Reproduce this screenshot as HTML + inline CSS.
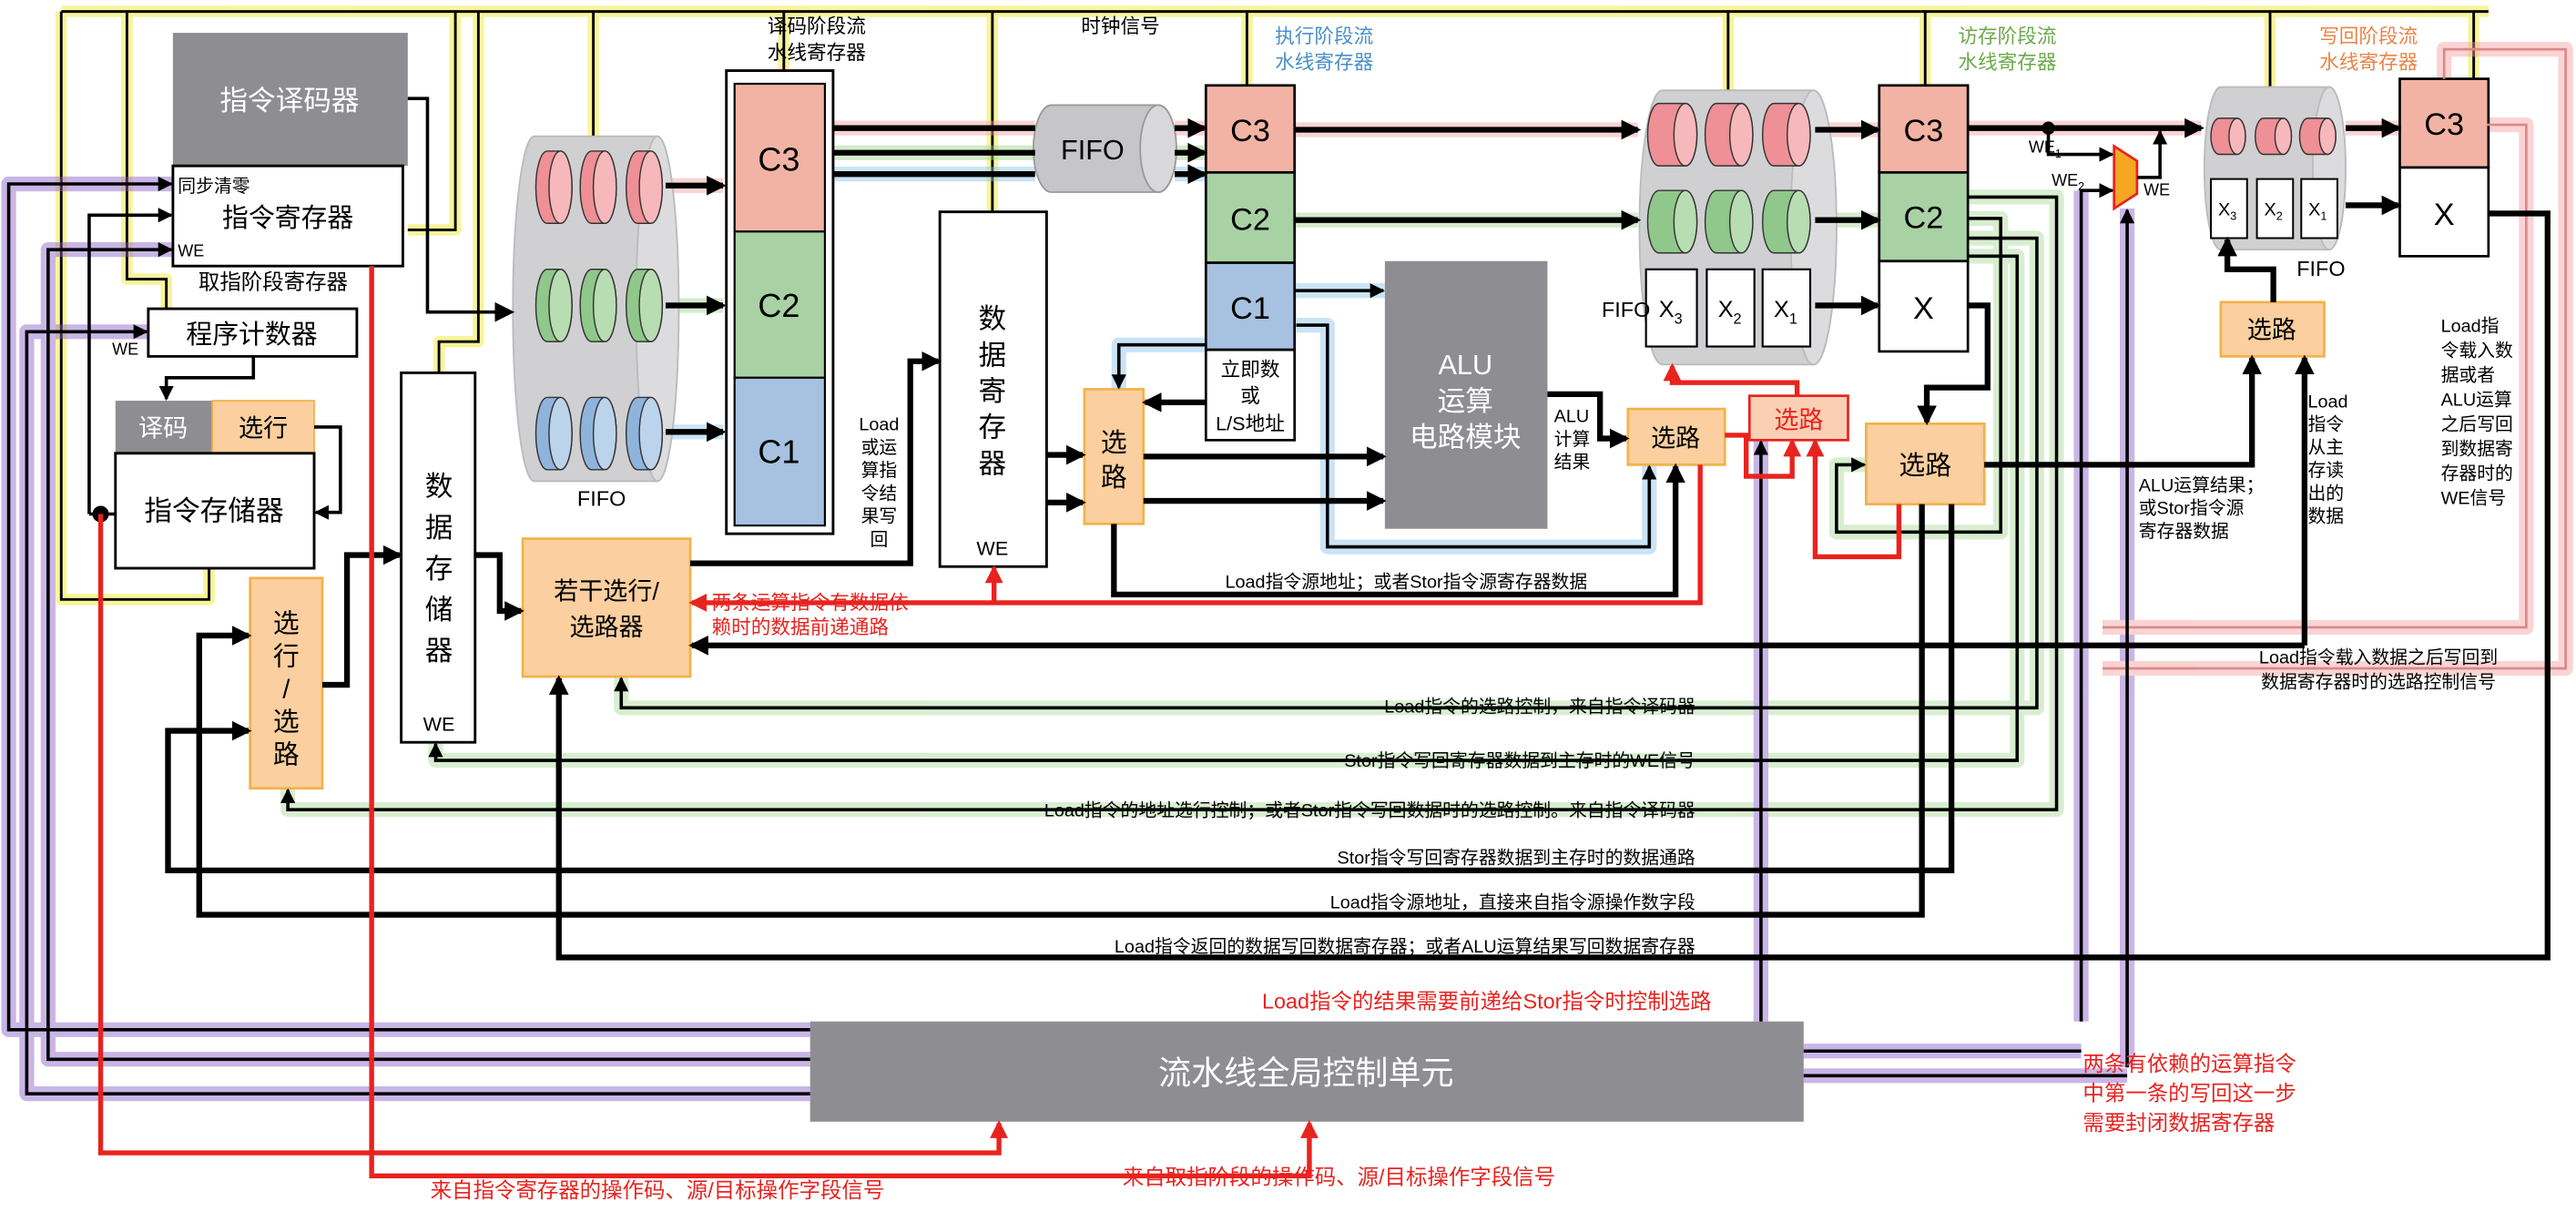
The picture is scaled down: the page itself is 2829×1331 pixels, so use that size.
<!DOCTYPE html>
<html><head><meta charset="utf-8"><style>
html,body{margin:0;padding:0;background:#fff;}
svg{display:block;}
text{font-family:"Liberation Sans","Noto Sans CJK SC",sans-serif;}
</style></head><body>
<svg width="2829" height="1331" viewBox="0 0 1568 738" xmlns="http://www.w3.org/2000/svg">
<defs>
<marker id="a" markerUnits="userSpaceOnUse" markerWidth="12" markerHeight="12" refX="10" refY="6" orient="auto"><path d="M0,0 L12,6 L0,12 Z" fill="#000"/></marker>
<marker id="as" markerUnits="userSpaceOnUse" markerWidth="9" markerHeight="9" refX="8" refY="4.5" orient="auto"><path d="M0,0 L9,4.5 L0,9 Z" fill="#000"/></marker>
<marker id="r" markerUnits="userSpaceOnUse" markerWidth="11" markerHeight="11" refX="9" refY="5.5" orient="auto"><path d="M0,0 L11,5.5 L0,11 Z" fill="#e8231f"/></marker>
</defs>
<rect width="1568" height="738" fill="#fff"/>

<!-- ===== yellow clock bus ===== -->
<g fill="none" stroke="#f7f38a" stroke-width="7" stroke-linejoin="round" opacity="0.85">
<path d="M37,7 H1515"/>
<path d="M37,7 V365 H127 V346"/>
<path d="M77,7 V170 H101 V188"/>
<path d="M277,7 V140 H248"/>
<path d="M291,7 V208 H267 V227"/>
<path d="M361,7 V83"/><path d="M477,7 V43"/>
<path d="M604,7 V129"/><path d="M759,7 V52"/>
<path d="M1052,7 V55"/><path d="M1172,7 V52"/>
<path d="M1382,7 V53"/><path d="M1506,7 V48"/>
</g>
<g fill="none" stroke="#000" stroke-width="1.6">
<path d="M37,7 H1515"/>
<path d="M37,7 V365 H127 V346"/>
<path d="M77,7 V170 H101 V188"/>
<path d="M277,7 V140 H248"/>
<path d="M291,7 V208 H267 V227"/>
<path d="M361,7 V83"/><path d="M477,7 V43"/>
<path d="M604,7 V129"/><path d="M759,7 V52"/>
<path d="M1052,7 V55"/><path d="M1172,7 V52"/>
<path d="M1382,7 V53"/><path d="M1506,7 V48"/>
</g>
<text x="497" y="20" font-size="12" text-anchor="middle">译码阶段流</text>
<text x="497" y="36" font-size="12" text-anchor="middle">水线寄存器</text>
<text x="682" y="20" font-size="12" text-anchor="middle">时钟信号</text>
<text x="806" y="26" font-size="12" text-anchor="middle" fill="#4a90c8">执行阶段流</text>
<text x="806" y="42" font-size="12" text-anchor="middle" fill="#4a90c8">水线寄存器</text>
<text x="1222" y="26" font-size="12" text-anchor="middle" fill="#6aaa4a">访存阶段流</text>
<text x="1222" y="42" font-size="12" text-anchor="middle" fill="#6aaa4a">水线寄存器</text>
<text x="1442" y="26" font-size="12" text-anchor="middle" fill="#e8854a">写回阶段流</text>
<text x="1442" y="42" font-size="12" text-anchor="middle" fill="#e8854a">水线寄存器</text>

<!-- ===== glows (colored) ===== -->
<g fill="none" stroke-width="9" stroke-linejoin="round" opacity="0.45">
<path d="M493,627 H5 V112 H105" stroke="#8a5cc8"/>
<path d="M493,645 H29 V152 H105" stroke="#8a5cc8"/>
<path d="M493,666 H16 V202 H90" stroke="#8a5cc8"/>
<path d="M405,113 H440 M507,78 H630 M715,78 H734 M788,79 H997 M1105,79 H1144 M1198,78 H1340 M1428,78 H1461" stroke="#f4a0a0"/>
<path d="M405,186 H440 M507,93 H630 M715,93 H734 M788,134 H997 M1105,134 H1144" stroke="#9fd48f"/>
<path d="M405,263 H440 M507,106 H630 M715,106 H734 M788,177 H843 M789,198 H808 V333 H1004 V283 M734,210 H681 V237" stroke="#8cc4ec"/>
<path d="M1198,133 H1218 V324 H1118 V283 H1136 M1198,145 H1240 V431 H378 V412 M1198,156 H1228 V463 H265 V452 M1198,120 H1252 V493 H175 V480" stroke="#a9db98"/>
<path d="M1072,622 V268 M1267,622 V116 M1295,650 V127 M1098,640 H1267 M1098,655 H1295" stroke="#8a5cc8"/>
<path d="M1488,48 V30 H1562 V407 H1280 M1514,76 H1538 V382 H1280" stroke="#f4a0a0"/>
</g>

<!-- ===== boxes: fetch stage ===== -->
<rect x="105" y="20" width="143" height="81" fill="#8e8e92"/>
<text x="176" y="67" font-size="17" fill="#fff" text-anchor="middle">指令译码器</text>
<rect x="105" y="101" width="140" height="61" fill="#fff" stroke="#000" stroke-width="1.6"/>
<text x="108" y="117" font-size="11">同步清零</text>
<text x="175" y="138" font-size="16" text-anchor="middle">指令寄存器</text>
<text x="108" y="156" font-size="10">WE</text>
<text x="166" y="176" font-size="13" text-anchor="middle">取指阶段寄存器</text>
<rect x="90" y="188" width="127" height="29" fill="#fff" stroke="#000" stroke-width="1.6"/>
<text x="153" y="209" font-size="16" text-anchor="middle">程序计数器</text>
<text x="68" y="216" font-size="10">WE</text>
<rect x="70" y="244" width="59" height="32" fill="#8e8e92"/>
<text x="99" y="266" font-size="15" fill="#fff" text-anchor="middle">译码</text>
<rect x="129" y="244" width="62" height="32" fill="#fbcf9f" stroke="#f2b24a" stroke-width="1"/>
<text x="160" y="266" font-size="15" text-anchor="middle">选行</text>
<rect x="70" y="276" width="121" height="70" fill="#fff" stroke="#000" stroke-width="1.6"/>
<text x="130" y="317" font-size="17" text-anchor="middle">指令存储器</text>

<rect x="152" y="352" width="44" height="128" fill="#fbcf9f" stroke="#f2b24a" stroke-width="1.5"/>
<text x="174" y="385" font-size="16" text-anchor="middle">选</text>
<text x="174" y="405" font-size="16" text-anchor="middle">行</text>
<text x="174" y="425" font-size="16" text-anchor="middle">/</text>
<text x="174" y="445" font-size="16" text-anchor="middle">选</text>
<text x="174" y="465" font-size="16" text-anchor="middle">路</text>

<rect x="244" y="227" width="45" height="225" fill="#fff" stroke="#000" stroke-width="1.6"/>
<text x="267" y="302" font-size="17" text-anchor="middle">数</text>
<text x="267" y="327" font-size="17" text-anchor="middle">据</text>
<text x="267" y="352" font-size="17" text-anchor="middle">存</text>
<text x="267" y="377" font-size="17" text-anchor="middle">储</text>
<text x="267" y="402" font-size="17" text-anchor="middle">器</text>
<text x="267" y="445" font-size="12" text-anchor="middle">WE</text>

<rect x="318" y="328" width="102" height="84" fill="#fbcf9f" stroke="#f2b24a" stroke-width="1.5"/>
<text x="369" y="365" font-size="15" text-anchor="middle">若干选行/</text>
<text x="369" y="387" font-size="15" text-anchor="middle">选路器</text>

<!-- ===== big FIFO (decode) ===== -->
<path d="M325,83 H400 A13,105 0 0 1 400,293 H325 A13,105 0 0 1 325,83 Z" fill="#d0d0d2" stroke="#bbb"/>
<ellipse cx="400" cy="188" rx="13" ry="105" fill="#dcdcde" stroke="#bbb"/>
<g stroke="#333" stroke-width="0.8">
<g fill="#ef8f96"><path d="M333,92 H341 A7,22 0 0 1 341,136 H333 A7,22 0 0 1 333,92Z"/><path d="M360,92 H368 A7,22 0 0 1 368,136 H360 A7,22 0 0 1 360,92Z"/><path d="M388,92 H396 A7,22 0 0 1 396,136 H388 A7,22 0 0 1 388,92Z"/></g>
<g fill="#f7b8bc"><ellipse cx="341" cy="114" rx="7" ry="22"/><ellipse cx="368" cy="114" rx="7" ry="22"/><ellipse cx="396" cy="114" rx="7" ry="22"/></g>
<g fill="#8fc88a"><path d="M333,164 H341 A7,22 0 0 1 341,208 H333 A7,22 0 0 1 333,164Z"/><path d="M360,164 H368 A7,22 0 0 1 368,208 H360 A7,22 0 0 1 360,164Z"/><path d="M388,164 H396 A7,22 0 0 1 396,208 H388 A7,22 0 0 1 388,164Z"/></g>
<g fill="#b8ddb2"><ellipse cx="341" cy="186" rx="7" ry="22"/><ellipse cx="368" cy="186" rx="7" ry="22"/><ellipse cx="396" cy="186" rx="7" ry="22"/></g>
<g fill="#8fb4dc"><path d="M333,242 H341 A7,22 0 0 1 341,286 H333 A7,22 0 0 1 333,242Z"/><path d="M360,242 H368 A7,22 0 0 1 368,286 H360 A7,22 0 0 1 360,242Z"/><path d="M388,242 H396 A7,22 0 0 1 396,286 H388 A7,22 0 0 1 388,242Z"/></g>
<g fill="#bcd3ec"><ellipse cx="341" cy="264" rx="7" ry="22"/><ellipse cx="368" cy="264" rx="7" ry="22"/><ellipse cx="396" cy="264" rx="7" ry="22"/></g>
</g>
<text x="366" y="308" font-size="13" text-anchor="middle">FIFO</text>

<!-- decode register column -->
<rect x="442" y="43" width="65" height="282" fill="#fff" stroke="#000" stroke-width="1.6"/>
<rect x="447" y="51" width="55" height="90" fill="#f2b3a4" stroke="#000" stroke-width="1.2"/>
<rect x="447" y="141" width="55" height="89" fill="#a8d2a4" stroke="#000" stroke-width="1.2"/>
<rect x="447" y="230" width="55" height="90" fill="#a6c2e0" stroke="#000" stroke-width="1.2"/>
<text x="474" y="104" font-size="20" text-anchor="middle">C3</text>
<text x="474" y="193" font-size="20" text-anchor="middle">C2</text>
<text x="474" y="282" font-size="20" text-anchor="middle">C1</text>

<!-- small FIFO exec -->
<path d="M640,64 H705 A11,26.5 0 0 1 705,117 H640 A11,26.5 0 0 1 640,64 Z" fill="#c6c6c8" stroke="#999"/>
<ellipse cx="705" cy="90.5" rx="11" ry="26.5" fill="#d8d8da" stroke="#999"/>
<text x="665" y="97" font-size="17" text-anchor="middle">FIFO</text>

<!-- exec register -->
<rect x="734" y="52" width="54" height="53" fill="#f2b3a4" stroke="#000" stroke-width="1.5"/>
<rect x="734" y="105" width="54" height="55" fill="#a8d2a4" stroke="#000" stroke-width="1.5"/>
<rect x="734" y="160" width="54" height="53" fill="#a6c2e0" stroke="#000" stroke-width="1.5"/>
<rect x="734" y="213" width="54" height="55" fill="#fff" stroke="#000" stroke-width="1.5"/>
<text x="761" y="86" font-size="19" text-anchor="middle">C3</text>
<text x="761" y="140" font-size="19" text-anchor="middle">C2</text>
<text x="761" y="194" font-size="19" text-anchor="middle">C1</text>
<text x="761" y="229" font-size="12" text-anchor="middle">立即数</text>
<text x="761" y="245" font-size="12" text-anchor="middle">或</text>
<text x="761" y="262" font-size="12" text-anchor="middle">L/S地址</text>

<!-- data register -->
<rect x="572" y="129" width="65" height="216" fill="#fff" stroke="#000" stroke-width="1.6"/>
<text x="604" y="200" font-size="17" text-anchor="middle">数</text>
<text x="604" y="222" font-size="17" text-anchor="middle">据</text>
<text x="604" y="244" font-size="17" text-anchor="middle">寄</text>
<text x="604" y="266" font-size="17" text-anchor="middle">存</text>
<text x="604" y="288" font-size="17" text-anchor="middle">器</text>
<text x="604" y="338" font-size="12" text-anchor="middle">WE</text>
<text x="535" y="262" font-size="11" text-anchor="middle">Load</text>
<text x="535" y="276" font-size="11" text-anchor="middle">或运</text>
<text x="535" y="290" font-size="11" text-anchor="middle">算指</text>
<text x="535" y="304" font-size="11" text-anchor="middle">令结</text>
<text x="535" y="318" font-size="11" text-anchor="middle">果写</text>
<text x="535" y="332" font-size="11" text-anchor="middle">回</text>

<rect x="660" y="237" width="36" height="82" fill="#fbcf9f" stroke="#f2b24a" stroke-width="1.5"/>
<text x="678" y="275" font-size="16" text-anchor="middle">选</text>
<text x="678" y="296" font-size="16" text-anchor="middle">路</text>

<rect x="843" y="159" width="99" height="163" fill="#8e8e92"/>
<text x="892" y="228" font-size="17" fill="#fff" text-anchor="middle">ALU</text>
<text x="892" y="250" font-size="17" fill="#fff" text-anchor="middle">运算</text>
<text x="892" y="272" font-size="17" fill="#fff" text-anchor="middle">电路模块</text>
<text x="946" y="257" font-size="11">ALU</text>
<text x="946" y="271" font-size="11">计算</text>
<text x="946" y="285" font-size="11">结果</text>

<rect x="991" y="249" width="59" height="34" fill="#fbcf9f" stroke="#f2b24a" stroke-width="1.5"/>
<text x="1020" y="272" font-size="15" text-anchor="middle">选路</text>
<rect x="1065" y="241" width="60" height="27" fill="#fbcfb4" stroke="#e8231f" stroke-width="1.5"/>
<text x="1095" y="261" font-size="15" fill="#e8231f" text-anchor="middle">选路</text>

<!-- big FIFO (exec->mem) -->
<path d="M1012,55 H1104 A14,83.5 0 0 1 1104,222 H1012 A14,83.5 0 0 1 1012,55 Z" fill="#d0d0d2" stroke="#bbb"/>
<ellipse cx="1104" cy="138.5" rx="14" ry="83.5" fill="#dcdcde" stroke="#bbb"/>
<g stroke="#333" stroke-width="0.8">
<g fill="#ef8f96"><path d="M1010,63 H1026 A7,19 0 0 1 1026,101 H1010 A7,19 0 0 1 1010,63Z"/><path d="M1045,63 H1060 A7,19 0 0 1 1060,101 H1045 A7,19 0 0 1 1045,63Z"/><path d="M1080,63 H1095 A7,19 0 0 1 1095,101 H1080 A7,19 0 0 1 1080,63Z"/></g>
<g fill="#f7b8bc"><ellipse cx="1026" cy="82" rx="7" ry="19"/><ellipse cx="1060" cy="82" rx="7" ry="19"/><ellipse cx="1095" cy="82" rx="7" ry="19"/></g>
<g fill="#8fc88a"><path d="M1010,116 H1026 A7,19 0 0 1 1026,154 H1010 A7,19 0 0 1 1010,116Z"/><path d="M1045,116 H1060 A7,19 0 0 1 1060,154 H1045 A7,19 0 0 1 1045,116Z"/><path d="M1080,116 H1095 A7,19 0 0 1 1095,154 H1080 A7,19 0 0 1 1080,116Z"/></g>
<g fill="#b8ddb2"><ellipse cx="1026" cy="135" rx="7" ry="19"/><ellipse cx="1060" cy="135" rx="7" ry="19"/><ellipse cx="1095" cy="135" rx="7" ry="19"/></g>
</g>
<g fill="#fff" stroke="#000" stroke-width="1.2">
<rect x="1002" y="164" width="31" height="47"/><rect x="1039" y="164" width="29" height="47"/><rect x="1073" y="164" width="29" height="47"/>
</g>
<text x="1017" y="193" font-size="14" text-anchor="middle">X<tspan font-size="9" dy="4">3</tspan></text>
<text x="1053" y="193" font-size="14" text-anchor="middle">X<tspan font-size="9" dy="4">2</tspan></text>
<text x="1087" y="193" font-size="14" text-anchor="middle">X<tspan font-size="9" dy="4">1</tspan></text>
<text x="975" y="193" font-size="13">FIFO</text>

<!-- mem register -->
<rect x="1144" y="52" width="54" height="53" fill="#f2b3a4" stroke="#000" stroke-width="1.5"/>
<rect x="1144" y="105" width="54" height="54" fill="#a8d2a4" stroke="#000" stroke-width="1.5"/>
<rect x="1144" y="159" width="54" height="55" fill="#fff" stroke="#000" stroke-width="1.5"/>
<text x="1171" y="86" font-size="19" text-anchor="middle">C3</text>
<text x="1171" y="139" font-size="19" text-anchor="middle">C2</text>
<text x="1171" y="194" font-size="19" text-anchor="middle">X</text>

<rect x="1136" y="258" width="72" height="49" fill="#fbcf9f" stroke="#f2b24a" stroke-width="1.5"/>
<text x="1172" y="289" font-size="16" text-anchor="middle">选路</text>

<!-- WE mux -->
<path d="M1287,89 L1301,98 L1301,118 L1287,127 Z" fill="#f5a623" stroke="#e8231f" stroke-width="1.5"/>
<text x="1235" y="93" font-size="10">WE<tspan font-size="7" dy="3">1</tspan></text>
<text x="1249" y="113" font-size="10">WE<tspan font-size="7" dy="3">2</tspan></text>
<text x="1305" y="119" font-size="10">WE</text>

<!-- small FIFO WB -->
<path d="M1352,53 H1418 A10,49.5 0 0 1 1418,152 H1352 A10,49.5 0 0 1 1352,53 Z" fill="#d0d0d2" stroke="#bbb"/>
<ellipse cx="1418" cy="102.5" rx="10" ry="49.5" fill="#dcdcde" stroke="#bbb"/>
<g stroke="#333" stroke-width="0.8">
<g fill="#ef8f96"><path d="M1351,72 H1362 A5,11 0 0 1 1362,94 H1351 A5,11 0 0 1 1351,72Z"/><path d="M1378,72 H1390 A5,11 0 0 1 1390,94 H1378 A5,11 0 0 1 1378,72Z"/><path d="M1405,72 H1417 A5,11 0 0 1 1417,94 H1405 A5,11 0 0 1 1405,72Z"/></g>
<g fill="#f7b8bc"><ellipse cx="1362" cy="83" rx="5" ry="11"/><ellipse cx="1390" cy="83" rx="5" ry="11"/><ellipse cx="1417" cy="83" rx="5" ry="11"/></g>
</g>
<g fill="#fff" stroke="#000" stroke-width="1.1">
<rect x="1346" y="109" width="22" height="36"/><rect x="1374" y="109" width="22" height="36"/><rect x="1401" y="109" width="22" height="36"/>
</g>
<text x="1356" y="131" font-size="11" text-anchor="middle">X<tspan font-size="7" dy="3">3</tspan></text>
<text x="1384" y="131" font-size="11" text-anchor="middle">X<tspan font-size="7" dy="3">2</tspan></text>
<text x="1411" y="131" font-size="11" text-anchor="middle">X<tspan font-size="7" dy="3">1</tspan></text>
<text x="1413" y="168" font-size="13" text-anchor="middle">FIFO</text>

<rect x="1461" y="48" width="54" height="54" fill="#f2b3a4" stroke="#000" stroke-width="1.5"/>
<rect x="1461" y="102" width="54" height="54" fill="#fff" stroke="#000" stroke-width="1.5"/>
<text x="1488" y="82" font-size="19" text-anchor="middle">C3</text>
<text x="1488" y="137" font-size="19" text-anchor="middle">X</text>

<rect x="1352" y="184" width="63" height="33" fill="#fbcf9f" stroke="#f2b24a" stroke-width="1.5"/>
<text x="1383" y="206" font-size="15" text-anchor="middle">选路</text>

<!-- control unit -->
<rect x="493" y="622" width="605" height="61" fill="#8e8e92"/>
<text x="795" y="660" font-size="20" fill="#fff" text-anchor="middle">流水线全局控制单元</text>

<!-- pink WE path -->
<g fill="none" stroke="#d88" stroke-width="1.5">
<path d="M1488,48 V30 H1562 V407 H1280"/>
<path d="M1514,76 H1538 V382 H1280"/>
</g>

<!-- ===== black connectors ===== -->
<g fill="none" stroke="#000" stroke-width="3.5" stroke-linejoin="miter">
<path d="M405,113 H440" marker-end="url(#a)"/>
<path d="M405,186 H440" marker-end="url(#a)"/>
<path d="M405,263 H440" marker-end="url(#a)"/>
<path d="M507,78 H630 M715,78 H733" marker-end="url(#a)"/>
<path d="M507,93 H630 M715,93 H733" marker-end="url(#a)"/>
<path d="M507,106 H630 M715,106 H733" marker-end="url(#a)"/>
<path d="M788,79 H997" marker-end="url(#a)"/>
<path d="M788,134 H997" marker-end="url(#a)"/>
<path d="M1105,79 H1143" marker-end="url(#a)"/>
<path d="M1105,134 H1143" marker-end="url(#a)"/>
<path d="M1105,186 H1143" marker-end="url(#a)"/>
<path d="M1198,78 H1340" marker-end="url(#a)"/>
<path d="M1428,78 H1460" marker-end="url(#a)"/>
<path d="M1428,125 H1460" marker-end="url(#a)"/>
<path d="M734,245 H697" marker-end="url(#a)"/>
<path d="M637,277 H659" marker-end="url(#a)"/>
<path d="M637,306 H659" marker-end="url(#a)"/>
<path d="M696,278 H842" marker-end="url(#a)"/>
<path d="M696,305 H842" marker-end="url(#a)"/>
<path d="M942,240 H974 V267 H990" marker-end="url(#a)"/>
<path d="M1198,186 H1210 V236 H1173 V257" marker-end="url(#a)"/>
<path d="M1208,283 H1371 V218" marker-end="url(#a)"/>
<path d="M1384,184 V164 H1356 V146" marker-end="url(#a)"/>
<path d="M1403,393 H421" marker-end="url(#a)"/>
<path d="M1403,393 V218" marker-end="url(#a)"/>
<path d="M1515,130 H1551 V583 H340 V413" marker-end="url(#a)"/>
<path d="M678,319 V362 H1020 V284" marker-end="url(#a)"/>
<path d="M420,343 H554 V220 H571" marker-end="url(#a)"/>
<path d="M289,338 H304 V372 H317" marker-end="url(#a)"/>
<path d="M196,417 H211 V338 H243" marker-end="url(#a)"/>
<path d="M1188,307 V530 H102 V445 H151" marker-end="url(#a)"/>
<path d="M1170,307 V557 H121 V387 H151" marker-end="url(#a)"/>
</g>
<g fill="none" stroke="#000" stroke-width="2" stroke-linejoin="miter">
<path d="M248,60 H260 V190 H311" marker-end="url(#a)"/>
<path d="M493,627 H5 V112 H104" marker-end="url(#as)"/>
<path d="M54,313 V131 H104" marker-end="url(#as)"/>
<path d="M493,645 H29 V152 H104" marker-end="url(#as)"/>
<path d="M493,666 H16 V202 H89" marker-end="url(#as)"/>
<path d="M154,217 V230 H101 V243" marker-end="url(#as)"/>
<path d="M191,260 H207 V312 H192" marker-end="url(#as)"/>
<path d="M788,177 H842" marker-end="url(#as)"/>
<path d="M789,198 H808 V333 H1004 V284" marker-end="url(#as)"/>
<path d="M734,210 H681 V236" marker-end="url(#as)"/>
<path d="M1198,133 H1218 V324 H1118 V283 H1135" marker-end="url(#as)"/>
<path d="M1198,145 H1240 V431 H378 V413" marker-end="url(#as)"/>
<path d="M1198,156 H1228 V463 H265 V453" marker-end="url(#as)"/>
<path d="M1198,120 H1252 V493 H175 V481" marker-end="url(#as)"/>
<path d="M1247,78 V94 H1286" marker-end="url(#as)"/>
<path d="M1267,622 V116 H1286" marker-end="url(#as)"/>
<path d="M1301,108 H1315 V80" marker-end="url(#as)"/>
<path d="M1295,650 V128" marker-end="url(#as)"/>
<path d="M1072,622 V269" marker-end="url(#as)"/>
<path d="M1098,640 H1267 M1098,655 H1295"/>
</g>
<circle cx="1247" cy="78" r="4" fill="#000"/>
<circle cx="61" cy="313" r="5" fill="#000"/>
<path d="M54,313 H70" stroke="#000" stroke-width="2"/>

<!-- ===== red connectors ===== -->
<g fill="none" stroke="#e8231f" stroke-width="3" stroke-linejoin="miter">
<path d="M61,313 V702 H608 V684" marker-end="url(#r)"/>
<path d="M226,162 V716 H797 V684" marker-end="url(#r)"/>
<path d="M1035,283 V367 H421" marker-end="url(#r)"/>
<path d="M605,367 V346" marker-end="url(#r)"/>
<path d="M1050,265 H1063 V290 H1091 V269" marker-end="url(#r)"/>
<path d="M1094,241 V233 H1018 V223" marker-end="url(#r)"/>
<path d="M1156,307 V339 H1105 V269" marker-end="url(#r)"/>
</g>

<!-- ===== labels ===== -->
<g font-size="11">
<text x="856" y="358" text-anchor="middle">Load指令源地址；或者Stor指令源寄存器数据</text>
<text x="1302" y="299">ALU运算结果；</text>
<text x="1302" y="313">或Stor指令源</text>
<text x="1302" y="327">寄存器数据</text>
<text x="1405" y="248">Load</text>
<text x="1405" y="262">指令</text>
<text x="1405" y="276">从主</text>
<text x="1405" y="290">存读</text>
<text x="1405" y="304">出的</text>
<text x="1405" y="318">数据</text>
<text x="1486" y="202">Load指</text>
<text x="1486" y="217">令载入数</text>
<text x="1486" y="232">据或者</text>
<text x="1486" y="247">ALU运算</text>
<text x="1486" y="262">之后写回</text>
<text x="1486" y="277">到数据寄</text>
<text x="1486" y="292">存器时的</text>
<text x="1486" y="307">WE信号</text>
<text x="1448" y="404" text-anchor="middle">Load指令载入数据之后写回到</text>
<text x="1448" y="419" text-anchor="middle">数据寄存器时的选路控制信号</text>
<text x="1032" y="434" text-anchor="end">Load指令的选路控制，来自指令译码器</text>
<text x="1032" y="467" text-anchor="end">Stor指令写回寄存器数据到主存时的WE信号</text>
<text x="1032" y="497" text-anchor="end">Load指令的地址选行控制；或者Stor指令写回数据时的选路控制。来自指令译码器</text>
<text x="1032" y="526" text-anchor="end">Stor指令写回寄存器数据到主存时的数据通路</text>
<text x="1032" y="553" text-anchor="end">Load指令源地址，直接来自指令源操作数字段</text>
<text x="1032" y="580" text-anchor="end">Load指令返回的数据写回数据寄存器；或者ALU运算结果写回数据寄存器</text>
</g>
<g font-size="12" fill="#e8231f">
<text x="433" y="371">两条运算指令有数据依</text>
<text x="433" y="386">赖时的数据前递通路</text>
<text x="905" y="614" text-anchor="middle" font-size="13">Load指令的结果需要前递给Stor指令时控制选路</text>
<text x="1268" y="652" font-size="13">两条有依赖的运算指令</text>
<text x="1268" y="670" font-size="13">中第一条的写回这一步</text>
<text x="1268" y="688" font-size="13">需要封闭数据寄存器</text>
<text x="400" y="729" text-anchor="middle" font-size="13">来自指令寄存器的操作码、源/目标操作字段信号</text>
<text x="815" y="721" text-anchor="middle" font-size="13">来自取指阶段的操作码、源/目标操作字段信号</text>
</g>
</svg>
</body></html>
